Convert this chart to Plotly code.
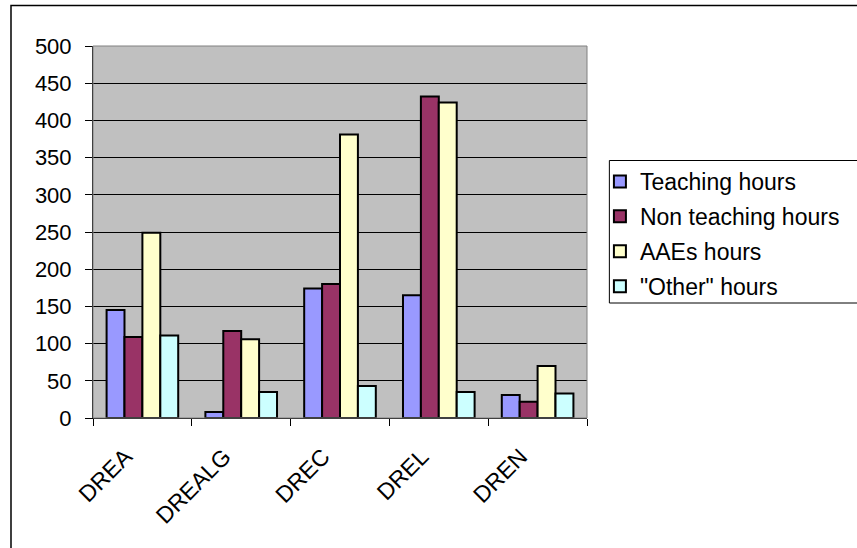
import plotly.graph_objects as go

categories = ["DREA", "DREALG", "DREC", "DREL", "DREN"]
teaching = [145, 8, 174, 165, 31]
non_teaching = [109, 117, 180, 432, 22]
aaes = [249, 106, 381, 424, 70]
other = [111, 35, 43, 35, 33]
series_names = ["Teaching hours", "Non teaching hours", "AAEs hours", "\"Other\" hours"]
series_colors = ["#9999FF", "#993366", "#FFFFCC", "#CCFFFF"]
y_ticks = [0, 50, 100, 150, 200, 250, 300, 350, 400, 450, 500]

W, H = 857, 548
L, R, T, B = 93, 590, 46, 418  # plot area pixel bounds

def px(x):
    return (x - L) / (R - L)

def py(y):
    return (B - y) / (B - T)

fig = go.Figure()
for i, (name, vals, col) in enumerate(zip(series_names, [teaching, non_teaching, aaes, other], series_colors)):
    fig.add_trace(go.Bar(
        x=categories, y=vals, name=name, legendgroup=str(i),
        marker=dict(color=col, line=dict(color="#000000", width=2)),
    ))

FONT = "Liberation Sans, Arial, sans-serif"
fig.update_layout(
    width=W, height=H,
    margin=dict(l=L, r=W - R, t=T, b=H - B, pad=0),
    paper_bgcolor="#FFFFFF",
    plot_bgcolor="#C0C0C0",
    barmode="group", bargap=0.275, bargroupgap=0,
    font=dict(family=FONT, size=22, color="#000000"),
    showlegend=True,
    legend=dict(
        x=px(603), y=py(160), xanchor="left", yanchor="top",
        bgcolor="rgba(0,0,0,0)", borderwidth=0,
        font=dict(family=FONT, size=23, color="#000000"),
        tracegroupgap=2, itemwidth=30,
    ),
    xaxis=dict(
        type="category", showgrid=False, tickson="boundaries",
        ticks="outside", ticklen=7, tickcolor="#000000", tickwidth=1,
        showline=True, linecolor="#000000", linewidth=1,
        tickangle=-45, tickfont=dict(family=FONT, size=23),
        ticklabelstandoff=15, ticklabelshift=-17,
    ),
    yaxis=dict(
        range=[0, 500], tickvals=y_ticks, ticktext=[str(v) for v in y_ticks],
        showgrid=True, gridcolor="#000000", gridwidth=1,
        ticks="outside", ticklen=7, tickcolor="#000000", tickwidth=1,
        showline=True, linecolor="#000000", linewidth=1,
        zeroline=False, tickfont=dict(family=FONT, size=22),
        ticklabelstandoff=9,
    ),
    shapes=[
        dict(type="rect", xref="paper", yref="paper", x0=0, x1=1, y0=0, y1=1,
             line=dict(color="#808080", width=1), fillcolor="rgba(0,0,0,0)", layer="above"),
        dict(type="rect", xref="paper", yref="paper", x0=px(10.5), x1=px(870), y0=py(5.5), y1=py(560),
             line=dict(color="#000000", width=1.5), fillcolor="rgba(0,0,0,0)"),
        dict(type="rect", xref="paper", yref="paper", x0=px(612.5), x1=px(870), y0=py(160.5), y1=py(303),
             line=dict(color="#000000", width=1), fillcolor="rgba(0,0,0,0)"),
    ],
)

fig.write_html("out.html", config={"displayModeBar": False},
               post_script="document.body.style.margin='0px';")
